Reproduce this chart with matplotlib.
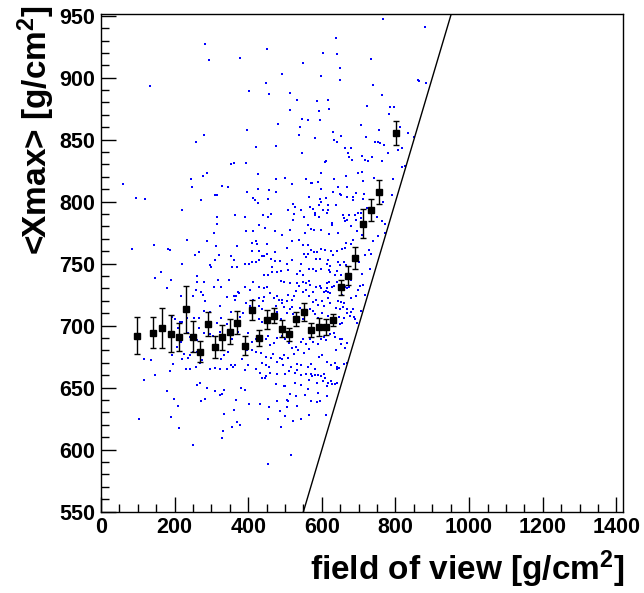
import numpy as np
import matplotlib
matplotlib.use('Agg')
import matplotlib.pyplot as plt
from matplotlib.ticker import MultipleLocator

plt.rcParams['font.family'] = ['Liberation Sans', 'DejaVu Sans']
plt.rcParams['font.weight'] = 'bold'
plt.rcParams['mathtext.fontset'] = 'custom'
plt.rcParams['mathtext.rm'] = 'Liberation Sans:bold'
plt.rcParams['mathtext.it'] = 'Liberation Sans:bold'
plt.rcParams['mathtext.bf'] = 'Liberation Sans:bold'

# profile <Xmax> vs field of view (black squares)
prof_fov = [97, 142, 165, 190, 211, 230, 251, 270, 290, 310, 330, 350, 370, 391, 410, 430,
            452, 471, 491, 511, 531, 551, 570, 592, 610, 630, 652, 672, 691, 712, 733, 756, 801]
prof_xmax = [692, 694.4, 698.1, 693.5, 691, 713.2, 691.1, 679, 701.2, 683, 690.5, 695, 702.4,
             683.9, 712.7, 690.3, 704.8, 708.1, 697.6, 693.1, 705.2, 711, 696.5, 699, 699,
             704.4, 731, 740.3, 754.6, 782.3, 793.5, 807.8, 855.4]
prof_err = [15.3, 12.6, 16.3, 14.8, 11.3, 18.8, 12.4, 8.7, 9.7, 9, 10.2, 10, 9.4, 8, 8, 6.5,
            7.5, 5.8, 6.9, 5.2, 5.5, 7.3, 5.6, 7, 6.2, 5, 6, 7.4, 8.7, 11.4, 8.9, 9.5, 9.5]

# cut line: Xmax = field of view
fov_line = [540, 960]

# single events (fov, xmax)
events = [
    (282,927),(293,914),(134,893),(378,916),(452,923),(449,896),(401,889),(456,887),(493,903),
    (514,888),(550,912),(599,901),(602,920),(641,919),(639,932),(648,908),(648,898),
    (279,854),(258,848),(396,858),(354,830),(361,831),(395,831),(61,814),(96,803),(119,802),
    (244,818),(247,812),(277,821),(287,823),(330,813),(344,812),(309,805),(314,805),(273,801),
    (219,793),(396,808),(363,789),(390,788),(315,788),(316,782),
    (234,769),(287,768),(308,775),(313,764),(83,762),(143,765),(183,762),(187,761),
    (533,882),(586,881),(617,882),(723,877),(785,876),(795,876),(782,871),(513,874),(593,873),
    (620,875),(545,867),(561,866),(595,866),(480,863),(540,860),(539,854),(581,851),(631,856),
    (651,853),(632,850),(642,848),(705,862),(720,852),(754,858),(745,848),(753,848),(758,847),
    (770,846),(780,839),(808,842),(420,844),(475,845),(545,839),(662,843),(680,843),(672,839),
    (675,836),(683,834),(709,837),(717,834),(726,833),(737,836),(764,833),(611,833),(609,832),
    (427,822),(476,818),(500,819),(557,818),(570,815),(573,815),(589,816),(597,823),(632,818),
    (665,821),(698,823),(709,824),(712,817),(742,819),(792,818),(427,810),(456,809),(476,808),
    (518,814),(599,810),(630,808),(643,812),(668,812),(650,806),(651,805),(669,804),(684,804),
    (694,807),(715,806),(711,802),(684,801),(413,803),(418,801),(427,799),(455,802),(566,804),
    (596,802),(597,800),(611,803),(592,797),(617,797),(639,797),(522,798),(528,796),(542,793),
    (509,793),(524,790),(567,796),(575,794),(580,791),(581,789),(618,793),(613,791),(602,793),
    (657,789),(675,789),(661,787),(667,785),(690,789),(697,791),(706,791),(440,789),(453,788),
    (463,790),(522,785),(551,788),(593,788),(627,783),(628,781),(664,784),(678,780),(694,785),
    (705,787),(723,795),(749,788),(765,800),(791,805),(429,781),(445,779),(514,777),(563,781),
    (570,778),(764,784),(771,782),
    (767,947),(880,941),(733,915),(740,894),(764,886),(860,898),(865,897),(883,896),(813,860),
    (835,855),(849,852),(818,843),(818,828),(827,829),(771,775),
    (394,776),(414,776),(472,776),(493,773),(555,775),(578,777),(599,777),(619,774),(643,775),
    (695,776),(709,773),(665,767),(664,763),(680,766),(684,769),(739,768),(752,772),(352,756),
    (369,764),(410,767),(420,768),(424,766),(452,766),(518,768),(538,769),(562,765),(571,761),
    (578,759),(586,759),(599,762),(608,761),(626,760),(630,757),(641,760),(654,762),(549,765),
    (504,763),(472,759),(428,760),(409,760),(361,753),(390,750),(401,750),(409,751),(420,751),
    (429,753),(437,756),(443,756),(450,758),(462,754),(472,752),(485,752),(506,750),(520,753),
    (542,750),(556,755),(563,758),(552,758),(585,754),(594,754),(617,753),(614,750),(621,748),
    (643,751),(649,749),(659,751),(666,749),(727,761),(733,758),(717,757),(702,751),(730,746),
    (708,742),(680,737),(641,744),(635,741),(653,741),(619,745),(621,743),(597,746),(583,744),
    (576,746),(565,746),(548,741),(541,744),(532,742),(507,745),(490,744),(478,743),(465,743),
    (454,741),(443,741),(465,747),(412,735),(369,747),(391,731),(406,729),(428,731),(442,730),
    (452,731),(489,736),(496,735),(513,734),(533,734),(537,732),(549,735),(556,734),(564,736),
    (569,733),(558,729),(548,727),(576,727),(584,731),(594,732),(597,730),(605,727),(611,728),
    (614,734),(619,735),(613,730),(618,727),(623,726),(627,731),(634,732),(640,735),(646,729),
    (655,725),(662,731),(668,730),(673,731),(697,729),(704,732),(713,733),(718,725),(694,724),
    (679,722),(659,718),(652,719),(643,720),(616,722),(601,720),(585,721),(576,719),(566,724),
    (530,728),(523,724),(520,721),(507,725),(504,720),(491,721),(483,721),(478,724),(470,722),
    (458,726),(443,723),(441,720),(428,722),(412,721),(393,718),(371,727),(376,726),(367,724),
    (362,724),(364,721),(406,716),(428,716),(438,713),(476,716),(493,718),(497,715),(513,713),
    (520,715),(541,714),(567,713),(576,712),(590,717),(607,716),(621,718),(639,714),(650,713),
    (658,715),(669,713),(678,711),(685,713),(706,712),(352,711),(387,710),(378,707),(430,705),
    (438,703),(477,711),(490,705),(505,710),(522,709),(550,705),(582,709),(590,706),(600,710),
    (617,708),(647,707),(649,701),(661,706),(676,708),(687,707),(656,702),(689,705),(695,702),
    (667,710),
    (371,695),(356,689),(399,694),(411,687),(422,689),(447,689),(455,692),(460,684),(469,686),
    (479,690),(492,692),(501,689),(511,686),(520,682),(529,683),(542,687),(550,689),(558,685),
    (569,689),(576,687),(590,685),(599,689),(606,691),(623,693),(632,694),(637,691),(648,689),
    (656,689),(668,686),(664,682),(652,685),(639,680),(610,688),(564,681),(552,678),(536,680),
    (523,677),(507,674),(496,676),(487,674),(467,677),(461,674),(447,675),(435,678),(422,679),
    (409,680),(397,680),(384,673),(364,668),(358,667),(399,668),(392,664),(420,665),(438,670),
    (449,668),(457,667),(479,671),(491,673),(494,668),(516,667),(532,669),(543,668),(561,667),
    (570,669),(581,665),(593,675),(600,676),(614,671),(626,668),(637,670),(642,667),(647,666),
    (640,665),(659,669),(667,670),(570,661),(581,660),(574,659),(590,660),(597,659),(607,661),
    (609,658),(588,654),(604,655),(615,651),(625,655),(641,654),(637,653),(628,653),(618,654),
    (565,656),(543,660),(558,661),(532,664),(526,662),(510,663),(499,661),(479,661),(459,662),
    (447,659),(438,658),(446,658),(431,662),(496,651),(501,651),(526,654),(542,652),(563,649),
    (589,646),(613,643),(586,638),(570,639),(555,644),(531,643),(513,645),(505,640),(507,639),
    (477,639),(456,634),(433,637),(403,637),(368,640),(381,650),(390,648),(475,653),(361,632),
    (504,634),(532,635),(596,639),(611,628),(566,628),(544,625),(522,623),(485,631),(501,627),
    (370,622),(455,625),
    (255,757),(266,759),(321,757),(220,750),(297,749),(300,747),(309,753),(355,747),(162,743),
    (148,738),(191,737),(261,740),(262,735),(279,735),(318,737),(347,737),(178,730),(259,729),
    (272,727),(276,725),(308,731),(326,731),(217,724),(251,724),(282,720),(343,723),(322,716),
    (280,712),(295,711),(192,707),(200,705),(214,703),(221,703),(234,706),(252,706),(267,706),
    (208,698),(236,694),(242,691),(267,698),(279,694),(261,688),(295,693),(303,692),(315,702),
    (327,706),(342,701),(322,695),(218,687),(206,683),(192,676),(225,677),(236,674),(243,676),
    (249,679),(260,679),(268,670),(275,672),(333,676),(344,679),(327,673),(116,673),(135,672),
    (196,669),(221,673),(257,667),(232,665),(241,665),(295,665),(310,666),(323,665),(343,665),
    (353,668),(187,663),(148,660),(116,656),(270,654),(261,652),(288,650),(311,647),(322,644),
    (329,645),(334,648),(179,647),
    (198,641),(210,635),(191,626),(103,625),(211,617),(250,604),(272,639),(282,641),(333,629),
    (331,615),(328,609),(357,618),(378,620),(490,618),(516,596),(455,588),
]
ev = np.array(events, dtype=float)

fig = plt.figure(figsize=(6.44, 5.93), dpi=100)
ax = fig.add_axes([0.1568, 0.1374, 0.8106, 0.839])

ax.scatter(ev[:, 0], ev[:, 1], s=3.2, c='#0000ff', marker='s', linewidths=0, zorder=2)
ax.plot(fov_line, fov_line, color='black', lw=1, zorder=3)
ax.errorbar(prof_fov, prof_xmax, yerr=prof_err, fmt='s', color='black', ms=5,
            ecolor='black', elinewidth=1, capsize=2, capthick=1, zorder=4)

ax.set_xlim(0, 1418)
ax.set_ylim(550, 951.4)
ax.xaxis.set_major_locator(MultipleLocator(200))
ax.xaxis.set_minor_locator(MultipleLocator(50))
ax.yaxis.set_major_locator(MultipleLocator(50))
ax.yaxis.set_minor_locator(MultipleLocator(10))
ax.tick_params(which='both', direction='in', top=False, right=False, width=1)
ax.tick_params(which='major', length=11, labelsize=15.5, pad=4)
ax.tick_params(which='minor', length=5.5)
for s in ax.spines.values():
    s.set_linewidth(1)

fig.text(625/644, 1 - 569/593, r'field of view [g/cm$^{2}$]', ha='right', va='center',
         fontsize=24, fontweight='bold')
fig.text(36/644, 1 - 5/593, r'<Xmax> [g/cm$^{2}$]', ha='center', va='top',
         rotation=90, fontsize=24, fontweight='bold')

fig.savefig('out.png', dpi=100)
